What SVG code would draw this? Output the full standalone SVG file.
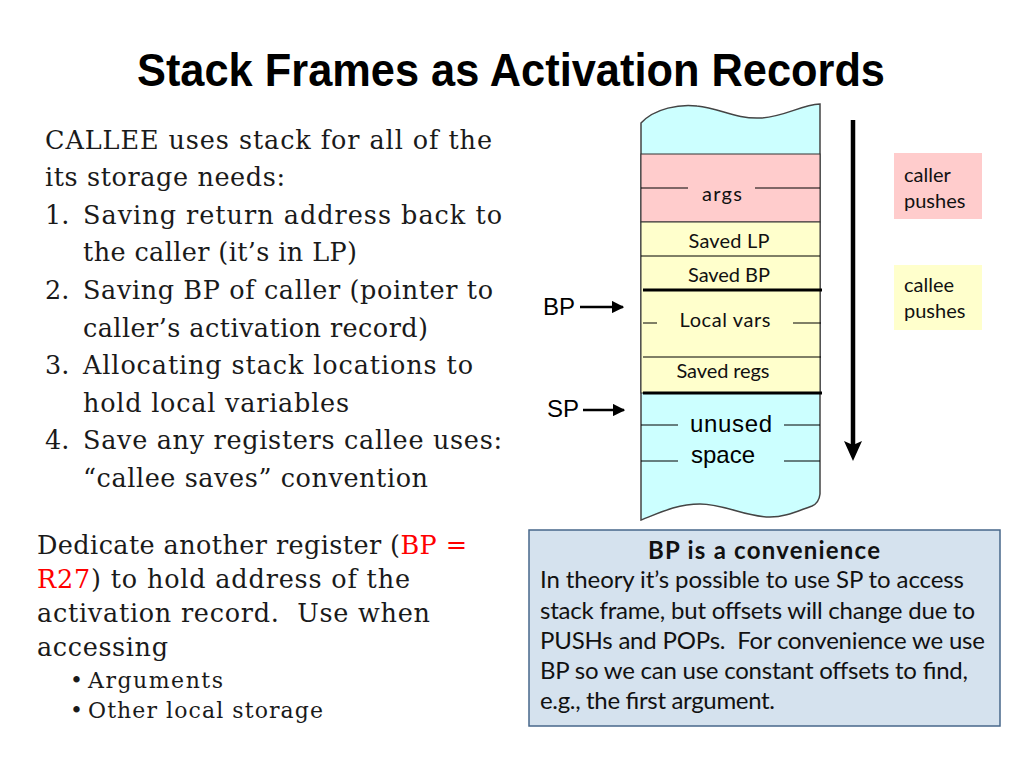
<svg xmlns="http://www.w3.org/2000/svg" width="1024" height="768" viewBox="0 0 1024 768">
<style>
.title{font-family:"Liberation Sans",Arial,sans-serif;font-weight:bold;font-size:46px;fill:#000}
.body{font-family:"DejaVu Serif","Liberation Serif",serif;font-size:25.5px;fill:#1a1a1a}
.small{font-family:"DejaVu Serif","Liberation Serif",serif;font-size:22px;fill:#1a1a1a}
.lbl{font-family:Lato,"Open Sans",sans-serif;font-size:20px;fill:#111}
.ptr{font-family:"Liberation Sans",Arial,sans-serif;font-size:24px;fill:#000}
.box{font-family:Lato,"Open Sans",sans-serif;font-size:24px;fill:#111}
.red{fill:#ff0000}
.thin{stroke:#000;stroke-width:1}
.thick{stroke:#000;stroke-width:3}
</style>
<defs>
<marker id="ah" viewBox="0 0 10 10" refX="9" refY="5" markerWidth="5" markerHeight="5" markerUnits="strokeWidth" orient="auto">
<path d="M0,0 L10,5 L0,10 z" fill="#000"/>
</marker>
</defs>
<rect width="1024" height="768" fill="#fff"/>
<text class="title" x="511" y="86" text-anchor="middle" textLength="748" lengthAdjust="spacingAndGlyphs">Stack Frames as Activation Records</text>

<g id="callee-text">
<text class="body" x="45" y="149" textLength="447">CALLEE uses stack for all of the</text>
<text class="body" x="45" y="186" textLength="240">its storage needs:</text>
<text class="body" x="45" y="224">1.</text>
<text class="body" x="83" y="224" textLength="419">Saving return address back to</text>
<text class="body" x="83" y="261" textLength="274">the caller (it’s in LP)</text>
<text class="body" x="45" y="299">2.</text>
<text class="body" x="83" y="299" textLength="410">Saving BP of caller (pointer to</text>
<text class="body" x="83" y="337" textLength="345">caller’s activation record)</text>
<text class="body" x="45" y="374">3.</text>
<text class="body" x="83" y="374" textLength="390">Allocating stack locations to</text>
<text class="body" x="83" y="412" textLength="266">hold local variables</text>
<text class="body" x="45" y="449">4.</text>
<text class="body" x="83" y="449" textLength="419">Save any registers callee uses:</text>
<text class="body" x="83" y="487" textLength="345">“callee saves” convention</text>
</g>

<g id="bp-text">
<text class="body" x="37" y="554" textLength="430">Dedicate another register (<tspan class="red">BP =</tspan></text>
<text class="body" x="37" y="588" textLength="373"><tspan class="red">R27</tspan>) to hold address of the</text>
<text class="body" x="37" y="622" textLength="393">activation record.&#160; Use when</text>
<text class="body" x="37" y="656" textLength="131">accessing</text>
<text class="small" x="70" y="688">•</text>
<text class="small" x="88" y="688" textLength="135">Arguments</text>
<text class="small" x="70" y="718">•</text>
<text class="small" x="88" y="718" textLength="235">Other local storage</text>
</g>

<g id="stack">
<path d="M641,123 C655,108 680,104 697,106 C720,108 735,119 760,118 C785,117 800,105 820,104 L820,494 Q819,503 812,506 C795,512 785,517 770,517 C745,517 725,504 700,504 C675,504 655,515 641,520 Z" fill="#ccffff" stroke="#444" stroke-width="1.5"/>
<rect x="641" y="154" width="179" height="68" fill="#ffcccc" stroke="#333" stroke-width="1"/>
<rect x="641" y="222" width="179" height="171" fill="#ffffcc" stroke="#333" stroke-width="1"/>
<line class="thin" x1="641" y1="188" x2="688" y2="188"/>
<line class="thin" x1="755" y1="188" x2="820" y2="188"/>
<text class="lbl" x="722" y="201" text-anchor="middle" textLength="40">args</text>
<line class="thin" x1="641" y1="256" x2="820" y2="256"/>
<text class="lbl" x="729" y="248" text-anchor="middle" textLength="81">Saved LP</text>
<text class="lbl" x="729" y="282" text-anchor="middle" textLength="82">Saved BP</text>
<line class="thick" x1="643" y1="290" x2="822" y2="290"/>
<line class="thin" x1="643" y1="323" x2="657" y2="323"/>
<line class="thin" x1="793" y1="323" x2="821" y2="323"/>
<text class="lbl" x="725" y="327" text-anchor="middle" textLength="91">Local vars</text>
<line class="thin" x1="643" y1="357" x2="821" y2="357"/>
<text class="lbl" x="723" y="378" text-anchor="middle" textLength="93">Saved regs</text>
<line class="thick" x1="643" y1="393" x2="822" y2="393"/>
<line class="thin" x1="641" y1="425" x2="678" y2="425"/>
<line class="thin" x1="784" y1="425" x2="820" y2="425"/>
<text class="ptr" x="731" y="432" text-anchor="middle" textLength="82">unused</text>
<line class="thin" x1="641" y1="461" x2="678" y2="461"/>
<line class="thin" x1="784" y1="461" x2="820" y2="461"/>
<text class="ptr" x="723" y="463" text-anchor="middle">space</text>
</g>

<g id="legend-caller">
<rect x="894" y="153" width="88" height="66" fill="#ffcccc"/>
<text class="lbl" x="904" y="182">caller</text>
<text class="lbl" x="904" y="208">pushes</text>
</g>
<g id="legend-callee">
<rect x="894" y="265" width="88" height="65" fill="#ffffcc"/>
<text class="lbl" x="904" y="292">callee</text>
<text class="lbl" x="904" y="318">pushes</text>
</g>

<g id="pointers">
<text class="ptr" x="543" y="315">BP</text>
<text class="ptr" x="547" y="417">SP</text>
</g>

<g id="connectors">
<line x1="580" y1="307" x2="623" y2="307" stroke="#000" stroke-width="2.5" marker-end="url(#ah)"/>
<line x1="583" y1="410" x2="624" y2="410" stroke="#000" stroke-width="2.5" marker-end="url(#ah)"/>
<line x1="853" y1="120" x2="853" y2="446" stroke="#000" stroke-width="4.5"/>
<path d="M844,441 L853,445 L862,441 L853,461 Z" fill="#000"/>
</g>

<g id="note">
<rect x="529" y="530" width="471" height="196" fill="#d5e2ee" stroke="#47678a" stroke-width="1.5"/>
<text class="box" x="764" y="559" text-anchor="middle" font-weight="bold" textLength="232">BP is a convenience</text>
<text class="box" x="540" y="588" textLength="424">In theory it’s possible to use SP to access</text>
<text class="box" x="540" y="619" textLength="435">stack frame, but offsets will change due to</text>
<text class="box" x="540" y="649" textLength="445">PUSHs and POPs.&#160; For convenience we use</text>
<text class="box" x="540" y="679" textLength="428">BP so we can use constant offsets to find,</text>
<text class="box" x="540" y="709" textLength="235">e.g., the first argument.</text>
</g>
</svg>
